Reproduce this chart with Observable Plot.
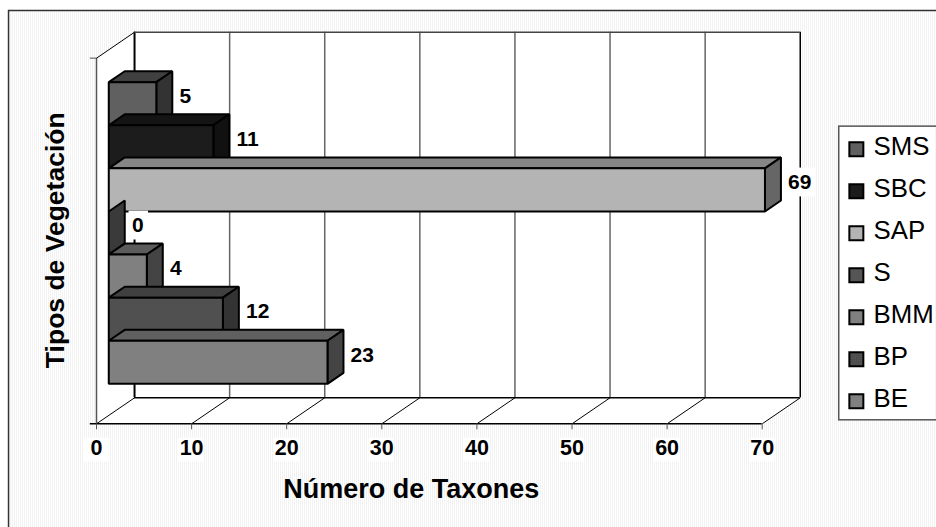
<!DOCTYPE html>
<html><head><meta charset="utf-8">
<style>html,body{margin:0;padding:0;background:#fff}svg{display:block}</style>
<script src="https://cdn.jsdelivr.net/npm/d3@7"></script>
<script src="https://cdn.jsdelivr.net/npm/@observablehq/plot@0.6"></script>
</head><body><script>
const seriesNames = ["SMS","SBC","SAP","S","BMM","BP","BE"];
const seriesValues = [5,11,69,0,4,12,23];
const frontFill = ["#606060","#1c1c1c","#b4b4b4","#555555","#808080","url(#dots)","#808080"];
const topFill   = ["#404040","#141414","#868686","#404040","#5c5c5c","url(#dotsDark)","#606060"];
const sideFill  = ["#333333","#111111","#666666","#3a3a3a","#444444","#333333","#444444"];
const xTicks = [0,10,20,30,40,50,60,70];
const xMax = 70, yMax = 8.366;

// depth of the 3-D box, of a bar, and the bar's inset, in axis units
const wallDx = 4, wallDy = 0.595, barDx = 1.68, barDy = 0.25, barInset = 1.29, firstSlot = 0.915, slotH = 0.986;

const poly = (id, fill, pts) => pts.map(([x,y]) => ({id, fill, x, y}));
const faces = [];
seriesValues.forEach((v,i) => {
  const u0 = firstSlot + (seriesNames.length-1-i)*slotH, u1 = u0+slotH;
  const a = barInset, b = barInset+v;
  if (v>0) faces.push(...poly("t"+i, topFill[i], [[a,u1],[b,u1],[b+barDx,u1+barDy],[a+barDx,u1+barDy]]));
  faces.push(...poly("s"+i, sideFill[i], [[b,u0],[b,u1],[b+barDx,u1+barDy],[b+barDx,u0+barDy]]));
  if (v>0) faces.push(...poly("f"+i, frontFill[i], [[a,u0],[b,u0],[b,u1],[a,u1]]));
});
const labels = seriesValues.map((v,i) => ({
  v, x: barInset+v+barDx+0.75, y: firstSlot+(seriesNames.length-1-i)*slotH+slotH/2+barDy-0.08,
  w: String(v).length*1.25+0.5
}));
const walls = [
  ...poly("back","#fff",[[wallDx,wallDy],[xMax+wallDx,wallDy],[xMax+wallDx,yMax+wallDy],[wallDx,yMax+wallDy]]),
  ...poly("side","#fff",[[0,0],[wallDx,wallDy],[wallDx,yMax+wallDy],[0,yMax]]),
  ...poly("floor","#fff",[[0,0],[xMax,0],[xMax+wallDx,wallDy],[wallDx,wallDy]])
];
const legendY = seriesNames.map((n,i) => ({n, fill: frontFill[i], y: 6.28-i*0.961}));
const lx = 79.9;

const chart = Plot.plot({
  width:936, height:527,
  marginLeft:96, marginRight:174.3, marginTop:57.7, marginBottom:103.7,
  style:{fontFamily:"'Liberation Sans',Arial,sans-serif", background:"#fff", overflow:"visible"},
  x:{domain:[0,xMax], axis:null},
  y:{domain:[0,yMax], axis:null},
  color:{type:"identity"},
  marks:[
    // chart-area background and its frame
    Plot.rect([0],{x1:-9.25,x2:88.4,y1:-10.6,y2:9.46,fill:"url(#dither)"}),
    Plot.ruleX([-9.25],{y1:-10.6,y2:9.46,stroke:"#333",strokeWidth:1.5}),
    Plot.ruleY([9.46],{x1:-9.25,x2:88.4,stroke:"#333",strokeWidth:1.5}),
    // walls
    Plot.line(walls,{x:"x",y:"y",z:"id",fill:"fill",curve:"linear-closed"}),
    Plot.ruleX(xTicks.slice(1,-1),{x:d=>d+wallDx,y1:wallDy,y2:yMax+wallDy,stroke:"#666",strokeWidth:1.5}),
    Plot.ruleX([wallDx],{y1:wallDy,y2:yMax+wallDy,stroke:"#000",strokeWidth:2}),
    Plot.ruleX([xMax+wallDx],{y1:wallDy,y2:yMax+wallDy,stroke:"#000",strokeWidth:1.5}),
    Plot.ruleY([yMax+wallDy],{x1:wallDx,x2:xMax+wallDx,stroke:"#444",strokeWidth:1.5}),
    Plot.ruleY([wallDy],{x1:wallDx,x2:xMax+wallDx,stroke:"#000",strokeWidth:1.5}),
    Plot.ruleX([0],{y1:0,y2:yMax,stroke:"#555",strokeWidth:1.5}),
    Plot.ruleY([yMax],{x1:-0.65,x2:0,stroke:"#888",strokeWidth:1.5}),
    Plot.link(xTicks,{x1:d=>d,y1:0,x2:d=>d+wallDx,y2:wallDy,stroke:"#000",strokeWidth:1}),
    Plot.link([0],{x1:0,y1:yMax,x2:wallDx,y2:yMax+wallDy,stroke:"#000",strokeWidth:1}),
    // bars
    Plot.line(faces,{x:"x",y:"y",z:"id",fill:"fill",stroke:"#000",strokeWidth:2,curve:"linear-closed",strokeLinejoin:"miter"}),
    // value labels
    Plot.rect(labels,{x1:d=>d.x-0.3,x2:d=>d.x+d.w,y1:d=>d.y-0.33,y2:d=>d.y+0.33,fill:"#fff"}),
    Plot.text(labels,{x:"x",y:"y",text:d=>String(d.v),textAnchor:"start",fontWeight:"bold",fontSize:21,fill:"#000"}),
    // x axis
    Plot.rect(xTicks,{x1:d=>d-1.35,x2:d=>d+1.35,y1:-0.33,y2:-0.88,fill:"#fff"}),
    Plot.ruleY([0],{x1:-0.65,x2:xMax,stroke:"#000",strokeWidth:1.5}),
    Plot.axisX({ticks:xTicks,tickSize:6,tickPadding:10,fontSize:21.5,fontWeight:"bold",stroke:"#555",fill:"#000",label:null,tickFormat:d=>String(d)}),
    // axis titles
    Plot.text(["Número de Taxones"],{x:33.1,y:-1.5,fontSize:27,fontWeight:"bold",fill:"#000"}),
    Plot.text(["Tipos de Vegetación"],{x:-4.3,y:4.2,rotate:-90,fontSize:26.5,fontWeight:"bold",fill:"#000"}),
    // legend
    Plot.rect([0],{x1:78.1,x2:88.4,y1:0.08,y2:6.8,fill:"#fff",stroke:"#555",strokeWidth:1.5}),
    Plot.dot(legendY,{x:lx,y:"y",symbol:"square",r:7.9,fill:"fill",stroke:"#000",strokeWidth:2}),
    Plot.text(legendY,{x:lx+1.8,y:d=>d.y+0.06,text:"n",textAnchor:"start",fontSize:25.8,fill:"#000"})
  ]
});
d3.select(chart).insert("defs",":first-child").html(`
<pattern id="dither" width="2" height="2" patternUnits="userSpaceOnUse"><rect width="2" height="2" fill="#fff"/><rect width="1" height="2" fill="#f2f2f2"/></pattern>
<pattern id="dots" width="2" height="2" patternUnits="userSpaceOnUse"><rect width="2" height="2" fill="#5a5a5a"/><rect width="1" height="1" fill="#303030"/></pattern>
<pattern id="dotsDark" width="2" height="2" patternUnits="userSpaceOnUse"><rect width="2" height="2" fill="#484848"/><rect width="1" height="1" fill="#282828"/></pattern>`);
document.body.append(chart);
</script></body></html>
